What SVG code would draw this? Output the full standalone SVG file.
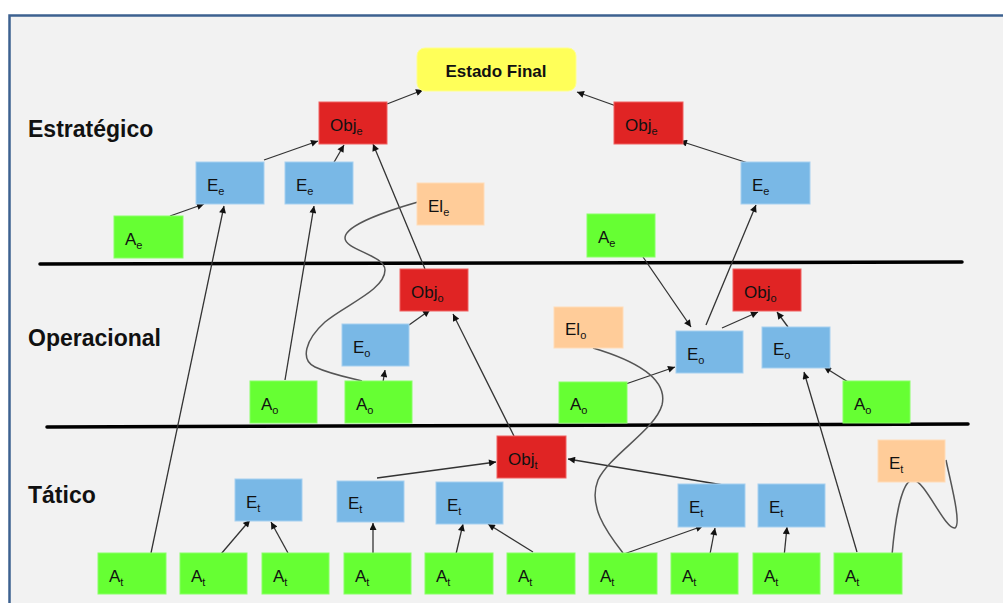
<svg xmlns="http://www.w3.org/2000/svg" width="1003" height="603" viewBox="0 0 1003 603">
<defs>
<style>
.frame{fill:#f2f2f2;stroke:#3d6190;stroke-width:2.5}
.g{fill:#66ff33;stroke:#88ff66;stroke-width:1}
.b{fill:#79b8e6;stroke:#a6d0f0;stroke-width:1}
.r{fill:#e02424;stroke:#f06060;stroke-width:1}
.p{fill:#ffcc99;stroke:#ffdcb8;stroke-width:1}
.y{fill:#ffff59;stroke:#ffff90;stroke-width:1}
.t{font-family:"Liberation Sans",Arial,sans-serif;font-size:17px;fill:#111}
.s{font-size:11px}
.h{font-family:"Liberation Sans",Arial,sans-serif;font-size:23px;font-weight:bold;fill:#111}
.sep{stroke:#000;stroke-width:3.5;fill:none;stroke-linecap:round}
.a{stroke:#333;stroke-width:1.3;fill:none;marker-end:url(#ah)}
.c{stroke:#555;stroke-width:1.5;fill:none}
</style>
<marker id="ah" viewBox="0 0 10 10" refX="10" refY="5" markerUnits="userSpaceOnUse" markerWidth="9" markerHeight="7" orient="auto">
<path d="M0,0 L10,5 L0,10 z" fill="#111"/>
</marker>
</defs>
<rect x="0" y="0" width="1003" height="603" fill="#ffffff"/>
<rect class="frame" x="9.5" y="15.5" width="1010" height="600"/>

<g id="levels">
<text class="h" x="28" y="137">Estratégico</text>
<text class="h" x="28" y="346">Operacional</text>
<text class="h" x="28" y="503">Tático</text>
<path class="sep" d="M40,264 L962,262"/>
<path class="sep" d="M47,427 L968,424"/>
</g>

<g id="connectors">
<path class="a" d="M387,104 L423,90"/>
<path class="a" d="M619,107 L577,92"/>
<path class="a" d="M264,160 L318,141"/>
<path class="a" d="M333,164 L344,145"/>
<path class="a" d="M170,216 L204,204"/>
<path class="a" d="M151,553 L224,206"/>
<path class="a" d="M285,380 L314,206"/>
<path class="a" d="M425,269 L373,144"/>
<path class="a" d="M706,325 L756,205"/>
<path class="a" d="M748,163 L680,141"/>
<path class="a" d="M643,257 L691,327"/>
<path class="a" d="M409,325 L430,310"/>
<path class="a" d="M383,382 L385,370"/>
<path class="a" d="M514,436 L453,314"/>
<path class="a" d="M722,328 L758,312"/>
<path class="a" d="M788,327 L777,312"/>
<path class="a" d="M617,387 L675,367"/>
<path class="a" d="M848,382 L824,367"/>
<path class="a" d="M857,552 L804,372"/>
<path class="a" d="M377,478 L496,462"/>
<path class="a" d="M723,485 L568,459"/>
<path class="a" d="M221,554 L250,520"/>
<path class="a" d="M288,553 L271,522"/>
<path class="a" d="M373,554 L373,523"/>
<path class="a" d="M456,554 L463,524"/>
<path class="a" d="M533,552 L488,524"/>
<path class="a" d="M624,554 L703,526"/>
<path class="a" d="M710,554 L715,528"/>
<path class="a" d="M784,557 L787,527"/>
<path class="c" d="M418,202 C390,210 345,225 345,238 C345,250 385,255 385,270 C385,290 345,305 325,322 C305,340 300,360 315,367 C330,374 350,378 362,381"/>
<path class="c" d="M593,348 C640,362 668,380 662,405 C655,430 610,455 598,480 C588,505 605,530 623,553"/>
<path class="c" d="M892,555 C896,510 903,480 913,480 C925,480 945,530 955,528 C962,524 950,480 946,460"/>
</g>

<g id="estado-final"><rect class="y" x="417" y="48" width="159" height="43" rx="8"/><text class="t" x="496" y="77" text-anchor="middle" font-weight="bold" font-size="18">Estado Final</text></g>

<g id="obj-e1"><rect class="r" x="319" y="102" width="68" height="42"/><text class="t" x="330" y="131">Obj<tspan class="s" dy="4">e</tspan></text></g>
<g id="obj-e2"><rect class="r" x="614" y="102" width="69" height="42"/><text class="t" x="625" y="131">Obj<tspan class="s" dy="4">e</tspan></text></g>
<g id="e-e1"><rect class="b" x="196" y="162" width="68" height="42"/><text class="t" x="207" y="191">E<tspan class="s" dy="4">e</tspan></text></g>
<g id="e-e2"><rect class="b" x="285" y="162" width="68" height="42"/><text class="t" x="296" y="191">E<tspan class="s" dy="4">e</tspan></text></g>
<g id="e-e3"><rect class="b" x="741" y="162" width="69" height="42"/><text class="t" x="752" y="191">E<tspan class="s" dy="4">e</tspan></text></g>
<g id="el-e"><rect class="p" x="417" y="183" width="67" height="42"/><text class="t" x="428" y="212">El<tspan class="s" dy="4">e</tspan></text></g>
<g id="a-e1"><rect class="g" x="114" y="216" width="69" height="42"/><text class="t" x="125" y="245">A<tspan class="s" dy="4">e</tspan></text></g>
<g id="a-e2"><rect class="g" x="587" y="214" width="68" height="43"/><text class="t" x="598" y="243">A<tspan class="s" dy="4">e</tspan></text></g>

<g id="obj-o1"><rect class="r" x="400" y="269" width="68" height="42"/><text class="t" x="411" y="298">Obj<tspan class="s" dy="4">o</tspan></text></g>
<g id="obj-o2"><rect class="r" x="733" y="269" width="68" height="42"/><text class="t" x="744" y="298">Obj<tspan class="s" dy="4">o</tspan></text></g>
<g id="e-o1"><rect class="b" x="342" y="324" width="67" height="42"/><text class="t" x="353" y="353">E<tspan class="s" dy="4">o</tspan></text></g>
<g id="e-o2"><rect class="b" x="676" y="331" width="67" height="42"/><text class="t" x="687" y="360">E<tspan class="s" dy="4">o</tspan></text></g>
<g id="e-o3"><rect class="b" x="762" y="327" width="68" height="41"/><text class="t" x="773" y="355">E<tspan class="s" dy="4">o</tspan></text></g>
<g id="el-o"><rect class="p" x="554" y="307" width="69" height="41"/><text class="t" x="565" y="335">El<tspan class="s" dy="4">o</tspan></text></g>
<g id="a-o1"><rect class="g" x="250" y="381" width="67" height="42"/><text class="t" x="261" y="410">A<tspan class="s" dy="4">o</tspan></text></g>
<g id="a-o2"><rect class="g" x="345" y="381" width="67" height="42"/><text class="t" x="356" y="410">A<tspan class="s" dy="4">o</tspan></text></g>
<g id="a-o3"><rect class="g" x="559" y="382" width="68" height="41"/><text class="t" x="570" y="410">A<tspan class="s" dy="4">o</tspan></text></g>
<g id="a-o4"><rect class="g" x="843" y="381" width="67" height="42"/><text class="t" x="854" y="410">A<tspan class="s" dy="4">o</tspan></text></g>

<g id="obj-t"><rect class="r" x="497" y="436" width="69" height="42"/><text class="t" x="508" y="465">Obj<tspan class="s" dy="4">t</tspan></text></g>
<g id="e-t1"><rect class="b" x="235" y="479" width="67" height="42"/><text class="t" x="246" y="508">E<tspan class="s" dy="4">t</tspan></text></g>
<g id="e-t2"><rect class="b" x="337" y="481" width="67" height="41"/><text class="t" x="348" y="509">E<tspan class="s" dy="4">t</tspan></text></g>
<g id="e-t3"><rect class="b" x="436" y="482" width="67" height="42"/><text class="t" x="447" y="511">E<tspan class="s" dy="4">t</tspan></text></g>
<g id="e-t4"><rect class="b" x="678" y="484" width="67" height="43"/><text class="t" x="689" y="513">E<tspan class="s" dy="4">t</tspan></text></g>
<g id="e-t5"><rect class="b" x="758" y="484" width="67" height="43"/><text class="t" x="769" y="513">E<tspan class="s" dy="4">t</tspan></text></g>
<g id="e-t6"><rect class="p" x="878" y="440" width="67" height="42"/><text class="t" x="889" y="469">E<tspan class="s" dy="4">t</tspan></text></g>

<g id="a-t1"><rect class="g" x="98" y="553" width="68" height="41"/><text class="t" x="109" y="582">A<tspan class="s" dy="4">t</tspan></text></g>
<g id="a-t2"><rect class="g" x="180" y="553" width="67" height="41"/><text class="t" x="191" y="582">A<tspan class="s" dy="4">t</tspan></text></g>
<g id="a-t3"><rect class="g" x="262" y="553" width="67" height="41"/><text class="t" x="273" y="582">A<tspan class="s" dy="4">t</tspan></text></g>
<g id="a-t4"><rect class="g" x="344" y="553" width="67" height="41"/><text class="t" x="355" y="582">A<tspan class="s" dy="4">t</tspan></text></g>
<g id="a-t5"><rect class="g" x="425" y="553" width="68" height="41"/><text class="t" x="436" y="582">A<tspan class="s" dy="4">t</tspan></text></g>
<g id="a-t6"><rect class="g" x="507" y="553" width="68" height="41"/><text class="t" x="518" y="582">A<tspan class="s" dy="4">t</tspan></text></g>
<g id="a-t7"><rect class="g" x="589" y="553" width="68" height="41"/><text class="t" x="600" y="582">A<tspan class="s" dy="4">t</tspan></text></g>
<g id="a-t8"><rect class="g" x="671" y="553" width="67" height="41"/><text class="t" x="682" y="582">A<tspan class="s" dy="4">t</tspan></text></g>
<g id="a-t9"><rect class="g" x="753" y="553" width="67" height="41"/><text class="t" x="764" y="582">A<tspan class="s" dy="4">t</tspan></text></g>
<g id="a-t10"><rect class="g" x="834" y="553" width="68" height="41"/><text class="t" x="845" y="582">A<tspan class="s" dy="4">t</tspan></text></g>
</svg>
